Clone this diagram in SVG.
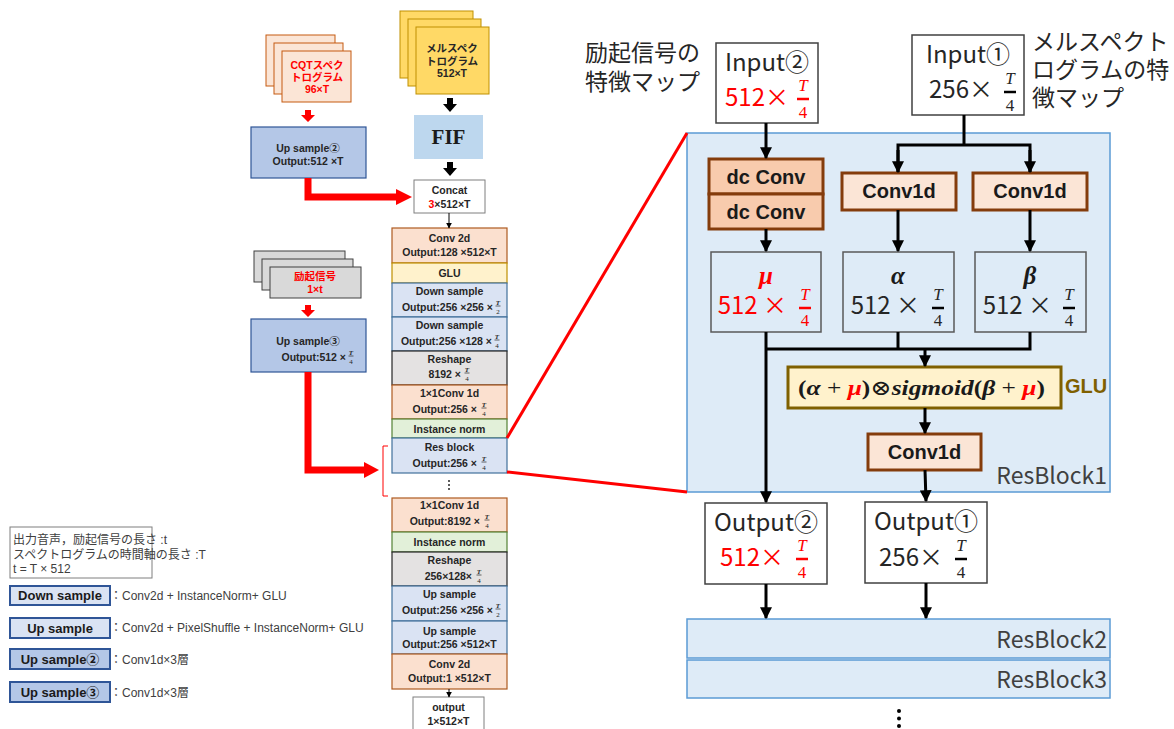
<svg xmlns="http://www.w3.org/2000/svg" width="1174" height="729" viewBox="0 0 1174 729">
<defs>
<style>
.s{font-family:"Liberation Sans","Noto Sans CJK JP",sans-serif;font-weight:bold;font-size:10.5px;fill:#262626;text-anchor:middle;}
.se{font-family:"Liberation Sans","Noto Sans CJK JP",sans-serif;font-weight:bold;font-size:10.5px;fill:#262626;text-anchor:end;}
.fr{font-family:"Liberation Serif","DejaVu Serif",serif;font-size:7px;fill:#262626;text-anchor:middle;}
.fri{font-style:italic;font-weight:bold;}
.big{font-family:"Noto Sans CJK JP","Liberation Sans",sans-serif;font-size:24px;fill:#262626;text-anchor:middle;}
.bige{font-family:"Noto Sans CJK JP","Liberation Sans",sans-serif;font-size:24px;fill:#262626;text-anchor:end;}
.lab{font-family:"Noto Sans CJK JP",sans-serif;font-size:23px;fill:#262626;}
.bf{font-family:"Liberation Serif","DejaVu Serif",serif;font-size:17px;fill:#262626;text-anchor:middle;}
.op{font-family:"Liberation Sans","Noto Sans CJK JP",sans-serif;font-weight:bold;font-size:20px;fill:#1a1a1a;text-anchor:middle;}
.gk{font-family:"Liberation Serif","DejaVu Serif",serif;font-style:italic;font-weight:bold;font-size:25px;text-anchor:middle;fill:#1a1a1a;}
.rb{font-family:"Noto Sans CJK JP","Liberation Sans",sans-serif;font-size:23px;fill:#404040;text-anchor:end;}
.lg{font-family:"Liberation Sans","Noto Sans CJK JP",sans-serif;font-size:12px;fill:#404040;}
.lgb{font-family:"Liberation Sans","Noto Sans CJK JP",sans-serif;font-size:13px;font-weight:bold;fill:#1a1a1a;text-anchor:middle;}
.red{fill:#ff0000;}
.peach{fill:#fbe0cf;stroke:#ae5a21;stroke-width:1.2;}
.glu{fill:#fff2cc;stroke:#bf9000;stroke-width:1.2;}
.blue{fill:#dae3f3;stroke:#41719c;stroke-width:1.2;}
.gray{fill:#e4e2e2;stroke:#262626;stroke-width:1.2;}
.green{fill:#e2f0d9;stroke:#548235;stroke-width:1.2;}
.ups{fill:#b4c7e7;stroke:#2f5597;stroke-width:1.2;}
.conn{fill:none;stroke:#000;stroke-width:3;}
.rblk{fill:#deebf7;stroke:#5b9bd5;stroke-width:1.5;}
.var{fill:#deebf7;stroke:#595959;stroke-width:1.5;}
.obox{fill:#fff;stroke:#404040;stroke-width:1.5;}
.oph{fill:#fbe5d6;stroke:#843c0c;stroke-width:3;}
.ophd{fill:#f8cbad;stroke:#843c0c;stroke-width:3;}
</style>
<marker id="ah" viewBox="0 0 10 10" refX="9" refY="5" markerWidth="12" markerHeight="12" markerUnits="userSpaceOnUse" orient="auto">
<path d="M0,0 L10,5 L0,10 z" fill="#000"/>
</marker>
<marker id="ahs" viewBox="0 0 10 10" refX="9" refY="5" markerWidth="6" markerHeight="6" markerUnits="userSpaceOnUse" orient="auto">
<path d="M0,0 L10,5 L0,10 z" fill="#000"/>
</marker>
</defs>
<rect width="1174" height="729" fill="#fff"/>

<!-- input stacks -->
<g id="cqt">
<rect x="266" y="35" width="69" height="51" fill="#fbe5d6" stroke="#c55a11"/>
<rect x="274" y="43" width="69" height="51" fill="#fbe5d6" stroke="#c55a11"/>
<rect x="282" y="51" width="69" height="51" fill="#fbe5d6" stroke="#c55a11"/>
<text class="s red" x="317" y="69">CQTスペク</text>
<text class="s red" x="317" y="81">トログラム</text>
<text class="s red" x="317" y="93">96×T</text>
</g>
<g id="mel">
<rect x="400" y="11" width="73" height="67" fill="#ffd966" stroke="#bf9000"/>
<rect x="408" y="19" width="73" height="67" fill="#ffd966" stroke="#bf9000"/>
<rect x="416" y="27" width="73" height="67" fill="#ffd966" stroke="#bf9000"/>
<text class="s" x="452" y="52">メルスペク</text>
<text class="s" x="452" y="65">トログラム</text>
<text class="s" x="452" y="77">512×T</text>
</g>
<g id="excitation">
<rect x="254" y="251" width="91" height="31" fill="#d9d9d9" stroke="#404040"/>
<rect x="262" y="259" width="91" height="31" fill="#d9d9d9" stroke="#404040"/>
<rect x="270" y="267" width="91" height="31" fill="#d9d9d9" stroke="#404040"/>
<text class="s red" x="315" y="280">励起信号</text>
<text class="s red" x="315" y="293">1×t</text>
</g>

<g id="upsample2">
<rect class="ups" x="251" y="127" width="115" height="51"/>
<text class="s" x="308" y="152">Up sample②</text>
<text class="s" x="308" y="165">Output:512 ×T</text>
</g>
<g id="upsample3">
<rect class="ups" x="251" y="319" width="115" height="53"/>
<text class="s" x="308" y="345">Up sample③</text>
<text class="se" x="346" y="361">Output:512 ×</text>
<text class="fr fri" x="351" y="354.5">T</text>
<line x1="348.5" y1="356" x2="353.5" y2="356" stroke="#262626" stroke-width="0.7"/>
<text class="fr" x="351" y="363.5">4</text>
</g>

<g id="fif">
<rect x="414" y="115" width="69" height="44" fill="#bdd7ee"/>
<text x="448.5" y="144" font-family="Liberation Serif, serif" font-weight="bold" font-size="21" text-anchor="middle" fill="#1a1a1a">FIF</text>
</g>
<g id="concat">
<rect x="414" y="180" width="71" height="33" fill="#fff" stroke="#7f7f7f"/>
<text class="s" x="449.5" y="194" font-size="12.5">Concat</text>
<text class="s" x="449.5" y="208" font-size="12.5"><tspan fill="#ff0000">3</tspan>×512×T</text>
</g>

<!-- generator column -->
<g id="conv2d-in">
<rect class="peach" x="392" y="228" width="115" height="35"/>
<text class="s" x="449.5" y="242">Conv 2d</text>
<text class="s" x="449.5" y="256">Output:128 ×512×T</text>
</g>
<g id="glu-in">
<rect class="glu" x="392" y="263" width="115" height="20"/>
<text class="s" x="449.5" y="277">GLU</text>
</g>
<g id="down1">
<rect class="blue" x="392" y="283" width="115" height="34"/>
<text class="s" x="449.5" y="295">Down sample</text>
<text class="se" x="493" y="311">Output:256 ×256 ×</text>
<text class="fr fri" x="498" y="304.5">T</text>
<line x1="495.5" y1="306" x2="500.5" y2="306" stroke="#262626" stroke-width="0.7"/>
<text class="fr" x="498" y="313.5">2</text>
</g>
<g id="down2">
<rect class="blue" x="392" y="317" width="115" height="34"/>
<text class="s" x="449.5" y="329">Down sample</text>
<text class="se" x="492" y="345">Output:256 ×128 ×</text>
<text class="fr fri" x="497" y="338.5">T</text>
<line x1="494.5" y1="340" x2="499.5" y2="340" stroke="#262626" stroke-width="0.7"/>
<text class="fr" x="497" y="347.5">4</text>
</g>
<g id="reshape1">
<rect class="gray" x="392" y="351" width="115" height="34"/>
<text class="s" x="449.5" y="363">Reshape</text>
<text class="se" x="461" y="378">8192 ×</text>
<text class="fr fri" x="467" y="371.5">T</text>
<line x1="464.5" y1="373" x2="469.5" y2="373" stroke="#262626" stroke-width="0.7"/>
<text class="fr" x="467" y="380.5">4</text>
</g>
<g id="conv1x1-a">
<rect class="peach" x="392" y="385" width="115" height="34"/>
<text class="s" x="449.5" y="397">1×1Conv 1d</text>
<text class="se" x="477" y="413">Output:256 ×</text>
<text class="fr fri" x="484" y="406.5">T</text>
<line x1="481.5" y1="408" x2="486.5" y2="408" stroke="#262626" stroke-width="0.7"/>
<text class="fr" x="484" y="415.5">4</text>
</g>
<g id="inorm-a">
<rect class="green" x="392" y="419" width="115" height="19"/>
<text class="s" x="449.5" y="433">Instance norm</text>
</g>
<g id="resblock">
<rect class="blue" x="392" y="438" width="115" height="35"/>
<text class="s" x="449.5" y="451">Res block</text>
<text class="se" x="477" y="467">Output:256 ×</text>
<text class="fr fri" x="484" y="460.5">T</text>
<line x1="481.5" y1="462" x2="486.5" y2="462" stroke="#262626" stroke-width="0.7"/>
<text class="fr" x="484" y="469.5">4</text>
</g>
<g id="vdots-left" fill="#262626">
<circle cx="449" cy="481" r="1"/>
<circle cx="449" cy="485" r="1"/>
<circle cx="449" cy="489" r="1"/>
</g>
<g id="conv1x1-b">
<rect class="peach" x="392" y="498" width="115" height="34"/>
<text class="s" x="449.5" y="509">1×1Conv 1d</text>
<text class="se" x="480" y="525">Output:8192 ×</text>
<text class="fr fri" x="487" y="518.5">T</text>
<line x1="484.5" y1="520" x2="489.5" y2="520" stroke="#262626" stroke-width="0.7"/>
<text class="fr" x="487" y="527.5">4</text>
</g>
<g id="inorm-b">
<rect class="green" x="392" y="532" width="115" height="20"/>
<text class="s" x="449.5" y="546">Instance norm</text>
</g>
<g id="reshape2">
<rect class="gray" x="392" y="552" width="115" height="34"/>
<text class="s" x="449.5" y="564">Reshape</text>
<text class="se" x="472" y="580">256×128×</text>
<text class="fr fri" x="479" y="573.5">T</text>
<line x1="476.5" y1="575" x2="481.5" y2="575" stroke="#262626" stroke-width="0.7"/>
<text class="fr" x="479" y="582.5">4</text>
</g>
<g id="up1">
<rect class="blue" x="392" y="586" width="115" height="35"/>
<text class="s" x="449.5" y="598">Up sample</text>
<text class="se" x="493" y="614">Output:256 ×256 ×</text>
<text class="fr fri" x="498" y="607.5">T</text>
<line x1="495.5" y1="609" x2="500.5" y2="609" stroke="#262626" stroke-width="0.7"/>
<text class="fr" x="498" y="616.5">2</text>
</g>
<g id="up2">
<rect class="blue" x="392" y="621" width="115" height="33"/>
<text class="s" x="449.5" y="635">Up sample</text>
<text class="s" x="449.5" y="648">Output:256 ×512×T</text>
</g>
<g id="conv2d-out">
<rect class="peach" x="392" y="654" width="115" height="35"/>
<text class="s" x="449.5" y="668">Conv 2d</text>
<text class="s" x="449.5" y="682">Output:1 ×512×T</text>
</g>
<g id="output">
<rect x="413" y="697" width="71" height="40" fill="#fff" stroke="#7f7f7f"/>
<text class="s" x="448.5" y="711" font-size="12">output</text>
<text class="s" x="448.5" y="725" font-size="12">1×512×T</text>
</g>

<!-- legend -->
<g id="legend-note">
<rect x="10" y="527" width="142" height="51" fill="#fff" stroke="#7f7f7f"/>
<text class="lg" x="13" y="544">出力音声，励起信号の長さ :t</text>
<text class="lg" x="13" y="559">スペクトログラムの時間軸の長さ :T</text>
<text class="lg" x="13" y="573">t = T × 512</text>
</g>
<g id="legend-down">
<rect x="10" y="586" width="100" height="19" fill="#dae3f3" stroke="#2f5597" stroke-width="2"/>
<text class="lgb" x="60" y="600">Down sample</text>
<text class="lg" x="110" y="600">：Conv2d + InstanceNorm+ GLU</text>
</g>
<g id="legend-up">
<rect x="10" y="618" width="100" height="20" fill="#dae3f3" stroke="#2f5597" stroke-width="2"/>
<text class="lgb" x="60" y="633">Up sample</text>
<text class="lg" x="110" y="632">：Conv2d + PixelShuffle + InstanceNorm+ GLU</text>
</g>
<g id="legend-up2">
<rect x="10" y="649" width="100" height="20" fill="#b4c7e7" stroke="#2f5597" stroke-width="2"/>
<text class="lgb" x="60" y="664">Up sample②</text>
<text class="lg" x="110" y="664">：Conv1d×3層</text>
</g>
<g id="legend-up3">
<rect x="10" y="682" width="100" height="20" fill="#b4c7e7" stroke="#2f5597" stroke-width="2"/>
<text class="lgb" x="60" y="697">Up sample③</text>
<text class="lg" x="110" y="697">：Conv1d×3層</text>
</g>

<!-- residual block detail -->
<g id="resblock1">
<rect class="rblk" x="687" y="133" width="423" height="359"/>
<text class="rb" x="1107" y="484">ResBlock1</text>
</g>
<g id="resblock2">
<rect class="rblk" x="687" y="619" width="423" height="39"/>
<text class="rb" x="1107" y="648">ResBlock2</text>
</g>
<g id="resblock3">
<rect class="rblk" x="687" y="660" width="423" height="38"/>
<text class="rb" x="1107" y="688">ResBlock3</text>
</g>
<g id="vdots-right" fill="#000">
<circle cx="899" cy="711" r="2"/>
<circle cx="899" cy="718.5" r="2"/>
<circle cx="899" cy="726" r="2"/>
</g>

<g id="input2">
<rect class="obox" x="716" y="43" width="102" height="80"/>
<text class="big" x="767" y="71">Input②</text>
<text class="bige red" x="789" y="106">512×</text>
<text class="bf red" x="803" y="91" font-style="italic">T</text>
<line x1="797" y1="99" x2="809" y2="99" stroke="#ff0000" stroke-width="2.5"/>
<text class="bf red" x="803" y="118">4</text>
</g>
<g id="input2-label">
<text class="lab" x="585" y="61">励起信号の</text>
<text class="lab" x="585" y="90">特徴マップ</text>
</g>

<g id="input1">
<rect class="obox" x="912" y="35" width="112" height="80"/>
<text class="big" x="968" y="63">Input①</text>
<text class="bige" x="993" y="98">256×</text>
<text class="bf" x="1010" y="84" font-style="italic">T</text>
<line x1="1004" y1="92" x2="1016" y2="92" stroke="#000" stroke-width="2.5"/>
<text class="bf" x="1010" y="111">4</text>
</g>
<g id="input1-label">
<text class="lab" x="1032" y="50">メルスペクト</text>
<text class="lab" x="1032" y="78">ログラムの特</text>
<text class="lab" x="1032" y="106">徴マップ</text>
</g>

<g id="dcconv">
<rect class="ophd" x="709" y="159" width="114" height="35"/>
<rect class="ophd" x="709" y="194" width="114" height="35"/>
<text class="op" x="766" y="184">dc Conv</text>
<text class="op" x="766" y="219">dc Conv</text>
</g>
<g id="conv1d-alpha">
<rect class="oph" x="842" y="173" width="114" height="37"/>
<text class="op" x="899" y="198">Conv1d</text>
</g>
<g id="conv1d-beta">
<rect class="oph" x="973" y="173" width="114" height="37"/>
<text class="op" x="1030" y="198">Conv1d</text>
</g>

<g id="mu">
<rect class="var" x="711" y="252" width="110" height="80"/>
<text class="gk red" x="766" y="284">μ</text>
<text class="bige red" x="787" y="314">512 ×</text>
<text class="bf red" x="805" y="300" font-style="italic">T</text>
<line x1="799" y1="308" x2="811" y2="308" stroke="#ff0000" stroke-width="2.5"/>
<text class="bf red" x="805" y="326">4</text>
</g>
<g id="alpha">
<rect class="var" x="843" y="252" width="111" height="80"/>
<text class="gk" x="898" y="284">α</text>
<text class="bige" x="920" y="314">512 ×</text>
<text class="bf" x="938" y="300" font-style="italic">T</text>
<line x1="932" y1="308" x2="944" y2="308" stroke="#000" stroke-width="2.5"/>
<text class="bf" x="938" y="326">4</text>
</g>
<g id="beta">
<rect class="var" x="975" y="252" width="111" height="80"/>
<text class="gk" x="1030" y="284">β</text>
<text class="bige" x="1052" y="314">512 ×</text>
<text class="bf" x="1069" y="300" font-style="italic">T</text>
<line x1="1063" y1="308" x2="1075" y2="308" stroke="#000" stroke-width="2.5"/>
<text class="bf" x="1069" y="326">4</text>
</g>

<g id="glu-gate">
<rect x="788" y="367" width="273" height="41" fill="#fff2cc" stroke="#7f6000" stroke-width="3"/>
<text x="798" y="395" textLength="247" lengthAdjust="spacingAndGlyphs" font-family="Liberation Serif, DejaVu Serif, serif" font-weight="bold" font-size="21" fill="#1a1a1a">(<tspan font-style="italic">α</tspan><tspan font-weight="normal"> + </tspan><tspan font-style="italic" fill="#ff0000">μ</tspan>)<tspan font-weight="normal" font-family="DejaVu Serif, serif">⊗</tspan><tspan font-style="italic">sigmoid</tspan>(<tspan font-style="italic">β</tspan><tspan font-weight="normal"> + </tspan><tspan font-style="italic" fill="#ff0000">μ</tspan>)</text>
<text x="1065" y="393" font-family="Liberation Sans, sans-serif" font-weight="bold" font-size="20" fill="#7f6000">GLU</text>
</g>
<g id="conv1d-out">
<rect class="oph" x="868" y="434" width="113" height="36"/>
<text class="op" x="924.5" y="459">Conv1d</text>
</g>

<g id="output2">
<rect class="obox" x="705" y="503" width="122" height="81"/>
<text class="big" x="766" y="531">Output②</text>
<text class="bige red" x="784" y="566">512×</text>
<text class="bf red" x="802" y="551" font-style="italic">T</text>
<line x1="796" y1="559" x2="808" y2="559" stroke="#ff0000" stroke-width="2.5"/>
<text class="bf red" x="802" y="578">4</text>
</g>
<g id="output1">
<rect class="obox" x="865" y="502" width="122" height="81"/>
<text class="big" x="926" y="530">Output①</text>
<text class="bige" x="943" y="566">256×</text>
<text class="bf" x="961" y="551" font-style="italic">T</text>
<line x1="955" y1="559" x2="967" y2="559" stroke="#000" stroke-width="2.5"/>
<text class="bf" x="961" y="578">4</text>
</g>

<!-- connectors -->
<g id="connectors">
<!-- block arrows in the input column -->
<polygon points="447,98 453,98 453,104 457,104 450,112 443,104 447,104" fill="#000"/>
<polygon points="447,162 453,162 453,168 457,168 450,176 443,168 447,168" fill="#000"/>
<polygon points="305,110 311,110 311,115 315,115 308,122 301,115 305,115" fill="#ff0000"/>
<polygon points="305,305 311,305 311,310 315,310 308,317 301,310 305,310" fill="#ff0000"/>
<polyline points="308,178 308,197 398,197" fill="none" stroke="#ff0000" stroke-width="7"/>
<polygon points="396,189 412,197 396,205" fill="#ff0000"/>
<polyline points="308,372 308,470 366,470" fill="none" stroke="#ff0000" stroke-width="7"/>
<polygon points="364,462 379,470 364,478" fill="#ff0000"/>
<path d="M388,446 H383 V496 H388" fill="none" stroke="#ff0000" stroke-width="1"/>
<!-- thin flow arrows -->
<line x1="449" y1="213" x2="449" y2="228" stroke="#000" stroke-width="1" marker-end="url(#ahs)"/>
<line x1="449" y1="689" x2="449" y2="697" stroke="#000" stroke-width="1" marker-end="url(#ahs)"/>
<!-- zoom-out lines to ResBlock1 -->
<line x1="507" y1="438" x2="687" y2="133" stroke="#ff0000" stroke-width="3"/>
<line x1="507" y1="472" x2="687" y2="492" stroke="#ff0000" stroke-width="3"/>
<!-- residual block wiring -->
<line class="conn" x1="766" y1="123" x2="766" y2="158" marker-end="url(#ah)"/>
<polyline class="conn" points="964,115 964,145"/>
<polyline class="conn" points="898,172 898,145 1030,145 1030,172"/>
<line class="conn" x1="898" y1="150" x2="898" y2="172" marker-end="url(#ah)"/>
<line class="conn" x1="1030" y1="150" x2="1030" y2="172" marker-end="url(#ah)"/>
<line class="conn" x1="766" y1="229" x2="766" y2="251" marker-end="url(#ah)"/>
<line class="conn" x1="898" y1="210" x2="898" y2="251" marker-end="url(#ah)"/>
<line class="conn" x1="1030" y1="210" x2="1030" y2="251" marker-end="url(#ah)"/>
<line class="conn" x1="766" y1="332" x2="766" y2="502" marker-end="url(#ah)"/>
<polyline class="conn" points="898,332 898,349"/>
<polyline class="conn" points="766,349 1030,349 1030,332"/>
<line class="conn" x1="925" y1="349" x2="925" y2="366" marker-end="url(#ah)"/>
<line class="conn" x1="925" y1="408" x2="925" y2="433" marker-end="url(#ah)"/>
<line class="conn" x1="925" y1="470" x2="926" y2="501" marker-end="url(#ah)"/>
<line class="conn" x1="766" y1="584" x2="766" y2="618" marker-end="url(#ah)"/>
<line class="conn" x1="926" y1="583" x2="926" y2="618" marker-end="url(#ah)"/>
</g>
</svg>
